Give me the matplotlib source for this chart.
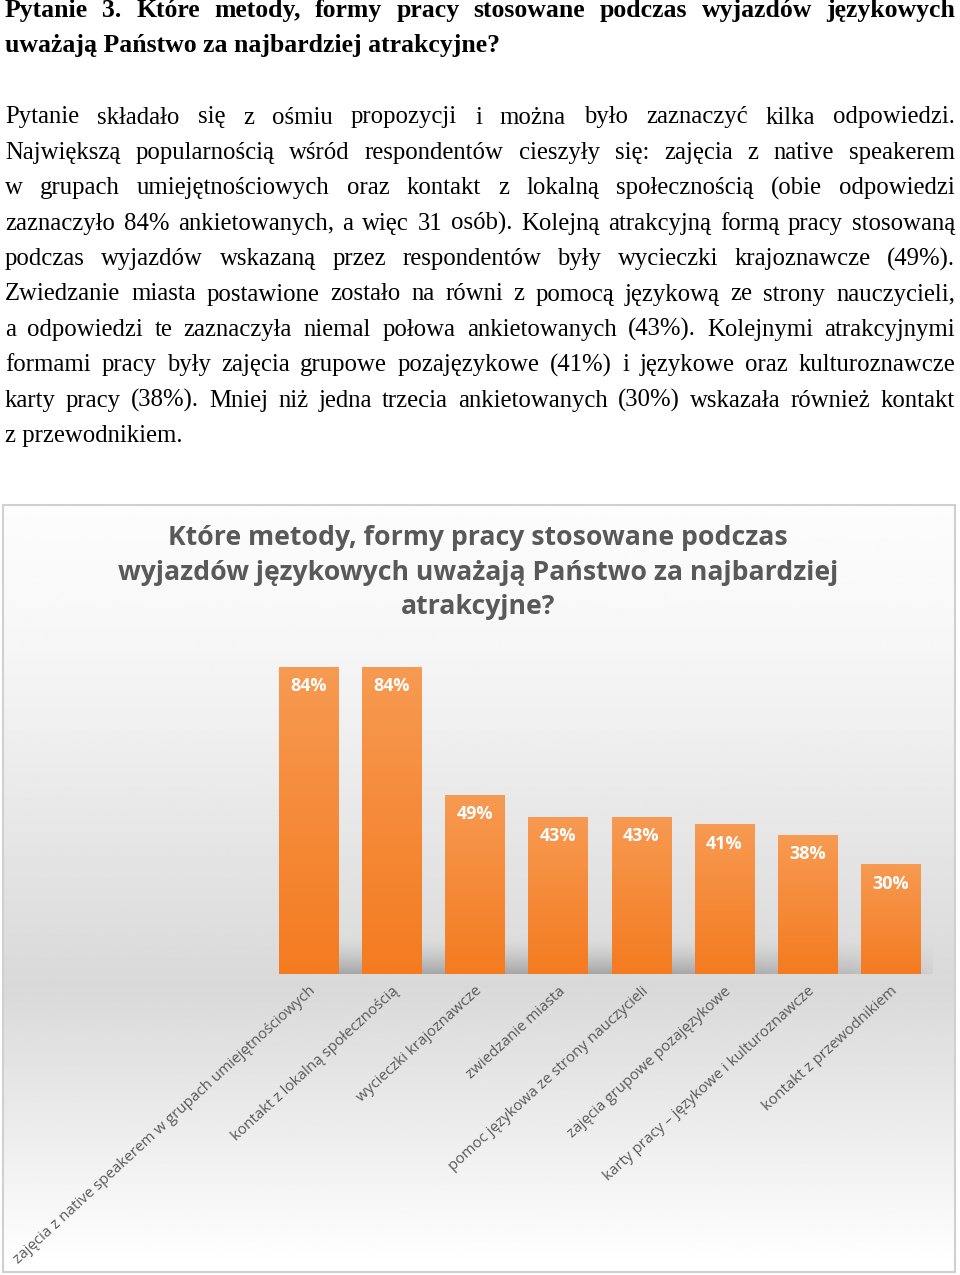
import numpy as np
import matplotlib.pyplot as plt
from matplotlib.patches import Rectangle
from matplotlib.colors import LinearSegmentedColormap

W, H = 960, 1275

heading = ["Pytanie 3. Które metody, formy pracy stosowane podczas wyjazdów językowych",
           "uważają Państwo za najbardziej atrakcyjne?"]
body = [
    "Pytanie składało się z ośmiu propozycji i można było zaznaczyć kilka odpowiedzi.",
    "Największą popularnością wśród respondentów cieszyły się: zajęcia z native speakerem",
    "w grupach umiejętnościowych oraz kontakt z lokalną społecznością (obie odpowiedzi",
    "zaznaczyło 84% ankietowanych, a więc 31 osób). Kolejną atrakcyjną formą pracy stosowaną",
    "podczas wyjazdów wskazaną przez respondentów były wycieczki krajoznawcze (49%).",
    "Zwiedzanie miasta postawione zostało na równi z pomocą językową ze strony nauczycieli,",
    "a odpowiedzi te zaznaczyła niemal połowa ankietowanych (43%). Kolejnymi atrakcyjnymi",
    "formami pracy były zajęcia grupowe pozajęzykowe (41%) i językowe oraz kulturoznawcze",
    "karty pracy (38%). Mniej niż jedna trzecia ankietowanych (30%) wskazała również kontakt",
    "z przewodnikiem.",
]

chart_title = ["Które metody, formy pracy stosowane podczas",
               "wyjazdów językowych uważają Państwo za najbardziej",
               "atrakcyjne?"]
categories = ["zajęcia z native speakerem w grupach umiejętnościowych",
              "kontakt z lokalną społecznością",
              "wycieczki krajoznawcze",
              "zwiedzanie miasta",
              "pomoc językowa ze strony nauczycieli",
              "zajęcia grupowe pozajęzykowe",
              "karty pracy – językowe i kulturoznawcze",
              "kontakt z przewodnikiem"]
values = [84, 84, 49, 43, 43, 41, 38, 30]

fig = plt.figure(figsize=(9.6, 12.75), dpi=100)
fig.patch.set_facecolor('white')

# whole page in pixel coordinates
page = fig.add_axes([0, 0, 1, 1], zorder=0)
page.axis('off')

# chart box background (grey gradient) and border
bx0, by0, bx1, by1 = 3, 505, 955, 1272
ys = np.linspace(by0, by1, 400)
shade = np.interp(ys, [505, 650, 985, 1265], [0.99, 0.965, 0.85, 1.0])
grad = np.repeat(shade[:, None], 2, axis=1)
page.imshow(grad, cmap='gray', vmin=0, vmax=1, extent=(bx0, bx1, by1, by0),
            aspect='auto', interpolation='bilinear', origin='upper')
page.add_patch(Rectangle((bx0, by0), bx1 - bx0, by1 - by0, fill=False,
                         ec='#d0d0d0', lw=1.5))
page.set_xlim(0, W)
page.set_ylim(H, 0)

renderer = fig.canvas.get_renderer()


def put_line(text, y, justify, **kw):
    if not justify:
        page.text(5, y, text, ha='left', va='baseline', **kw)
        return
    words = text.split(' ')
    objs = [page.text(0, y, w, ha='left', va='baseline', **kw) for w in words]
    widths = [o.get_window_extent(renderer).width for o in objs]
    gap = (955 - 5 - sum(widths)) / (len(words) - 1)
    x = 5
    for o, w in zip(objs, widths):
        o.set_x(x)
        x += w + gap


serif = dict(family='Liberation Serif', color='black')
put_line(heading[0], 17, True, fontsize=18.5, fontweight='bold', **serif)
put_line(heading[1], 52, False, fontsize=18.5, fontweight='bold', **serif)
for i, line in enumerate(body):
    put_line(line, 123.5 + 35.4 * i, i < len(body) - 1, fontsize=17.8, **serif)

for i, line in enumerate(chart_title):
    page.text(478, 545 + 34.5 * i, line, ha='center', va='baseline', fontsize=19.2,
              fontweight='bold', color='#595959', family='Open Sans')

# bar chart
ax = fig.add_axes([267 / W, (H - 974) / H, (932 - 267) / W, 365.5 / H], zorder=1)
ax.patch.set_visible(False)
x = np.arange(len(values))
bw = 0.71

# floor shadow behind the bars
sh = np.zeros((50, 200, 4))
sh[..., :3] = 0.45
alpha_v = np.linspace(0, 1, 50)[:, None] ** 1.5
alpha_h = np.clip(np.linspace(1.4, 0, 200), 0, 1)[None, :] ** 0.5
sh[..., 3] = 0.5 * alpha_v * np.minimum(1, alpha_h * 1.3)
ax.imshow(sh, extent=(0, 7.6, 0, 10), aspect='auto', origin='upper',
          interpolation='bilinear', zorder=1)

bars = ax.bar(x, values, width=bw, color='#f68a3a', zorder=2)
bar_cmap = LinearSegmentedColormap.from_list('bar', ['#f79a52', '#f47b20'])
col = np.linspace(0, 1, 100)[:, None]
for b, v in zip(bars, values):
    x0 = b.get_x()
    im = ax.imshow(col, cmap=bar_cmap, extent=(x0, x0 + bw, 0, v), aspect='auto',
                   origin='upper', interpolation='bilinear', zorder=3)
    im.set_clip_path(b)
    ax.text(b.get_x() + bw / 2, v - 5.3, f'{v}%', ha='center', va='center',
            color='white', fontsize=13, fontweight='bold', family='Open Sans',
            zorder=4)
ax.set_xlim(-0.5, 7.5)
ax.set_ylim(0, 100)

ax.set_xticks(x)
ax.set_xticklabels(categories, rotation=42.5, ha='right', rotation_mode='anchor',
                   fontsize=10.9, color='#595959', family='Open Sans')
ax.tick_params(axis='x', length=0, pad=7)
ax.set_yticks([])
for s in ax.spines.values():
    s.set_visible(False)

fig.savefig('out.png', dpi=100)
